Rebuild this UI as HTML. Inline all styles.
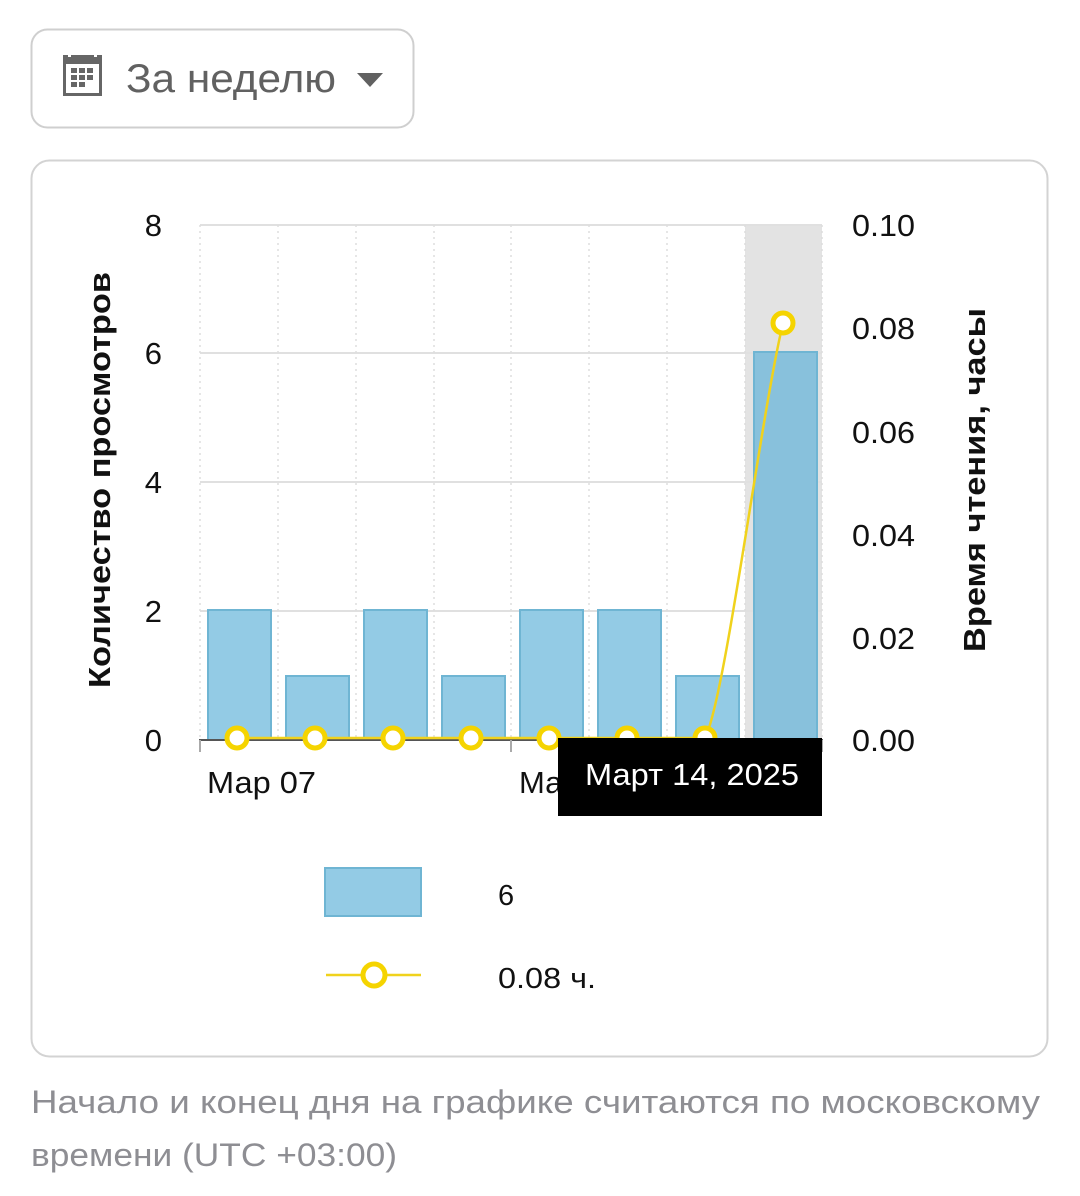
<!DOCTYPE html>
<html><head><meta charset="utf-8"><style>
body{margin:0;width:1080px;height:1191px;background:#fff;font-family:"Liberation Sans","Noto Sans CJK SC",sans-serif;overflow:hidden}
</style></head><body>
<svg width="1080" height="1191" xmlns="http://www.w3.org/2000/svg" font-family="Liberation Sans, Noto Sans CJK SC, sans-serif">
<rect x="31.5" y="29.5" width="382" height="98" rx="16" fill="#fff" stroke="#cfcfcf" stroke-width="2"/>
<g fill="#666">
<rect x="63" y="55" width="39" height="41" fill="#666"/>
<rect x="66" y="64" width="33" height="29" fill="#fff"/>
<g fill="#666">
<rect x="71" y="68" width="6" height="5"/><rect x="79" y="68" width="6" height="5"/><rect x="87" y="68" width="6" height="5"/>
<rect x="71" y="75" width="6" height="5"/><rect x="79" y="75" width="6" height="5"/><rect x="87" y="75" width="6" height="5"/>
<rect x="71" y="82" width="6" height="5"/><rect x="79" y="82" width="6" height="5"/></g>
<rect x="68" y="52" width="3" height="5" fill="#fff"/><rect x="94" y="52" width="3" height="5" fill="#fff"/>
</g>
<text x="126" y="92" font-size="40" fill="#616161" textLength="210" lengthAdjust="spacingAndGlyphs">За неделю</text>
<path d="M357 73 L383 73 L370 87 Z" fill="#616161"/>
<rect x="31.5" y="160.5" width="1016" height="896" rx="18" fill="#fff" stroke="#d3d3d3" stroke-width="2"/>
<rect x="745" y="225" width="77" height="515" fill="#e3e3e3"/>
<g stroke="#e0e0e0" stroke-width="2">
<line x1="200" y1="225" x2="822" y2="225"/><line x1="200" y1="353" x2="822" y2="353"/>
<line x1="200" y1="482" x2="822" y2="482"/><line x1="200" y1="611" x2="822" y2="611"/></g>
<g stroke="#ddd" stroke-width="1.5" stroke-dasharray="2,4">
<line x1="200" y1="225" x2="200" y2="740"/><line x1="278" y1="225" x2="278" y2="740"/><line x1="356" y1="225" x2="356" y2="740"/><line x1="434" y1="225" x2="434" y2="740"/><line x1="511" y1="225" x2="511" y2="740"/><line x1="589" y1="225" x2="589" y2="740"/><line x1="667" y1="225" x2="667" y2="740"/><line x1="745" y1="225" x2="745" y2="740"/><line x1="822" y1="225" x2="822" y2="740"/></g>
<g fill="#93cbe5" stroke="#6fb5d3" stroke-width="2">
<rect x="208" y="610" width="63" height="130"/><rect x="286" y="676" width="63" height="64"/>
<rect x="364" y="610" width="63" height="130"/><rect x="442" y="676" width="63" height="64"/>
<rect x="520" y="610" width="63" height="130"/><rect x="598" y="610" width="63" height="130"/>
<rect x="676" y="676" width="63" height="64"/><rect x="754" y="352" width="63" height="388" fill="#88c1dc"/></g>
<line x1="199" y1="740" x2="823" y2="740" stroke="#555" stroke-width="2"/>
<g stroke="#aaa" stroke-width="2"><line x1="200" y1="740" x2="200" y2="752"/><line x1="511" y1="740" x2="511" y2="752"/><line x1="822" y1="740" x2="822" y2="752"/></g>
<path d="M237 738 L705 738 C 725 700, 760 420, 783 323" fill="none" stroke="#f0d21c" stroke-width="2.5"/>
<g fill="#fff" stroke="#f5d400" stroke-width="5">
<circle cx="237" cy="738" r="10"/><circle cx="315" cy="738" r="10"/><circle cx="393" cy="738" r="10"/><circle cx="471" cy="738" r="10"/><circle cx="549" cy="738" r="10"/><circle cx="627" cy="738" r="10"/><circle cx="705" cy="738" r="10"/><circle cx="783" cy="323" r="10"/></g>
<g font-size="31" fill="#111" text-anchor="end">
<text x="162" y="236">8</text><text x="162" y="364">6</text><text x="162" y="493">4</text><text x="162" y="622">2</text><text x="162" y="751">0</text></g>
<g font-size="31" fill="#111">
<text x="852" y="236" textLength="63" lengthAdjust="spacingAndGlyphs">0.10</text><text x="852" y="339" textLength="63" lengthAdjust="spacingAndGlyphs">0.08</text><text x="852" y="443" textLength="63" lengthAdjust="spacingAndGlyphs">0.06</text><text x="852" y="546" textLength="63" lengthAdjust="spacingAndGlyphs">0.04</text><text x="852" y="649" textLength="63" lengthAdjust="spacingAndGlyphs">0.02</text><text x="852" y="751" textLength="63" lengthAdjust="spacingAndGlyphs">0.00</text>
<text x="207" y="793" textLength="109" lengthAdjust="spacingAndGlyphs">Мар 07</text><text x="519" y="793">Мар</text></g>
<text transform="translate(110,480) rotate(-90)" text-anchor="middle" font-size="31" font-weight="bold" fill="#111" textLength="416" lengthAdjust="spacingAndGlyphs">Количество просмотров</text>
<text transform="translate(985,480) rotate(-90)" text-anchor="middle" font-size="31" font-weight="bold" fill="#111" textLength="344" lengthAdjust="spacingAndGlyphs">Время чтения, часы</text>
<rect x="558" y="738" width="264" height="78" fill="#000"/>
<text x="585" y="785" font-size="31" fill="#fff" textLength="214" lengthAdjust="spacingAndGlyphs">Март 14, 2025</text>
<rect x="325" y="868" width="96" height="48" fill="#93cbe5" stroke="#6fb5d3" stroke-width="2"/>
<text x="498" y="905" font-size="29" fill="#111">6</text>
<line x1="326" y1="975" x2="421" y2="975" stroke="#f0d21c" stroke-width="2.5"/>
<circle cx="374" cy="975" r="11" fill="#fff" stroke="#f5d400" stroke-width="5"/>
<text x="498" y="988" font-size="29" fill="#111" textLength="98" lengthAdjust="spacingAndGlyphs">0.08 ч.</text>
<text x="31" y="1113" font-size="32" fill="#8e8e93" textLength="1009" lengthAdjust="spacingAndGlyphs">Начало и конец дня на графике считаются по московскому</text>
<text x="31" y="1166" font-size="32" fill="#8e8e93" textLength="366" lengthAdjust="spacingAndGlyphs">времени (UTC +03:00)</text>
</svg>
</body></html>
